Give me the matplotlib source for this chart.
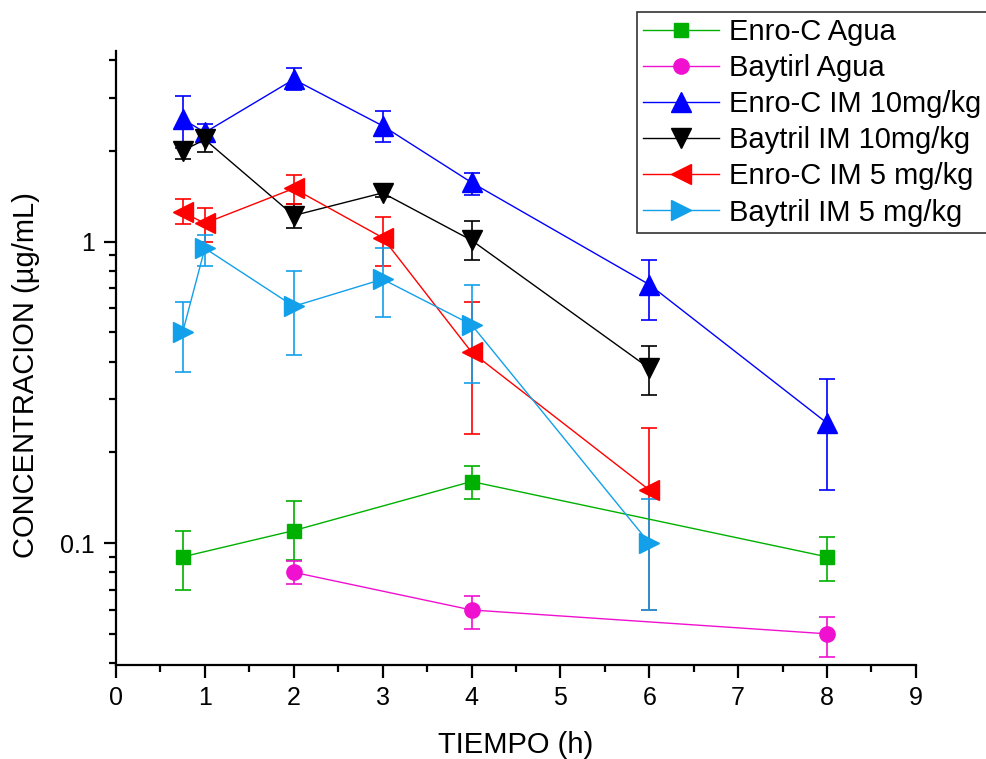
import numpy as np
import matplotlib
matplotlib.use("Agg")
import matplotlib.pyplot as plt

plt.rcParams['font.family'] = ['Liberation Sans', 'DejaVu Sans']

# time points (h) and concentrations (ug/mL), with error bar bounds
t_agua = [0.75, 2, 4, 8]
enro_agua = [0.090, 0.110, 0.160, 0.090]
enro_agua_lo = [0.070, 0.088, 0.140, 0.075]
enro_agua_hi = [0.110, 0.138, 0.180, 0.105]

t_bay_agua = [2, 4, 8]
bay_agua = [0.080, 0.060, 0.050]
bay_agua_lo = [0.073, 0.052, 0.042]
bay_agua_hi = [0.087, 0.067, 0.057]

t_enro10 = [0.75, 1, 2, 3, 4, 6, 8]
enro10 = [2.55, 2.30, 3.45, 2.42, 1.57, 0.72, 0.25]
enro10_lo = [2.05, 2.18, 3.18, 2.14, 1.43, 0.55, 0.15]
enro10_hi = [3.05, 2.45, 3.75, 2.70, 1.69, 0.87, 0.35]

t_bay10 = [0.75, 1, 2, 3, 4, 6]
bay10 = [2.00, 2.18, 1.22, 1.45, 1.01, 0.38]
bay10_lo = [1.88, 1.98, 1.11, 1.40, 0.87, 0.31]
bay10_hi = [2.12, 2.33, 1.33, 1.54, 1.17, 0.45]

t_enro5 = [0.75, 1, 2, 3, 4, 6]
enro5 = [1.25, 1.15, 1.50, 1.03, 0.43, 0.15]
enro5_lo = [1.14, 1.00, 1.33, 0.83, 0.23, 0.06]
enro5_hi = [1.38, 1.29, 1.66, 1.21, 0.63, 0.24]

t_bay5 = [0.75, 1, 2, 3, 4, 6]
bay5 = [0.50, 0.95, 0.61, 0.75, 0.53, 0.10]
bay5_lo = [0.37, 0.83, 0.42, 0.56, 0.34, 0.06]
bay5_hi = [0.63, 1.05, 0.80, 0.95, 0.72, 0.14]

series = [
    ("Enro-C Agua", t_agua, enro_agua, enro_agua_lo, enro_agua_hi, "#00B000", "s", 10),
    ("Baytirl Agua", t_bay_agua, bay_agua, bay_agua_lo, bay_agua_hi, "#F010D0", "o", 11),
    ("Enro-C IM 10mg/kg", t_enro10, enro10, enro10_lo, enro10_hi, "#0000FF", "^", 14),
    ("Baytril IM 10mg/kg", t_bay10, bay10, bay10_lo, bay10_hi, "#000000", "v", 14),
    ("Enro-C IM 5 mg/kg", t_enro5, enro5, enro5_lo, enro5_hi, "#FF0000", "<", 14),
    ("Baytril IM 5 mg/kg", t_bay5, bay5, bay5_lo, bay5_hi, "#12A0EA", ">", 14),
]

fig = plt.figure(figsize=(9.87, 7.59), dpi=100)
ax = fig.add_axes([0.1175, 0.1238, 0.8105, 0.8092])

handles = []
labels = []
for label, t, y, lo, hi, col, mk, ms in series:
    y = np.array(y)
    yerr = [y - np.array(lo), np.array(hi) - y]
    eb = ax.errorbar(t, y, yerr=yerr, color=col, marker=mk, markersize=ms,
                     linewidth=1.0, elinewidth=1.2, capsize=6, capthick=1.2)
    handles.append(eb[0])  # only line + marker in legend
    labels.append(label)

ax.set_yscale("log")
ax.set_xlim(0, 9)
ax.set_ylim(0.0394, 4.29)
ax.set_xticks(range(0, 10))
ax.set_xticks(np.arange(0.5, 9, 1), minor=True)
ax.set_yticks([0.1, 1])
ax.set_yticklabels(["0.1", "1"])

for s in ["top", "right"]:
    ax.spines[s].set_visible(False)
for s in ["left", "bottom"]:
    ax.spines[s].set_linewidth(1.6)

ax.tick_params(which="major", direction="out", length=9, width=1.6, labelsize=18, pad=6)
ax.tick_params(which="minor", direction="out", length=5, width=1.6)

ax.set_xlabel("TIEMPO (h)", fontsize=21, labelpad=15)
ax.set_ylabel("CONCENTRACION (\u00b5g/mL)", fontsize=21)
ax.yaxis.set_label_coords(-0.095, 0.472)

leg = ax.legend(handles, labels, loc="upper right", bbox_to_anchor=(1.0, 1 - 12 / 759),
                bbox_transform=fig.transFigure, fontsize=21, frameon=True,
                fancybox=False, edgecolor="black", handlelength=2.6,
                handletextpad=0.35, borderpad=0.2, labelspacing=0.28,
                borderaxespad=0, markerscale=1.0)
leg.get_frame().set_linewidth(1.2)

fig.savefig("out.png", dpi=100)
